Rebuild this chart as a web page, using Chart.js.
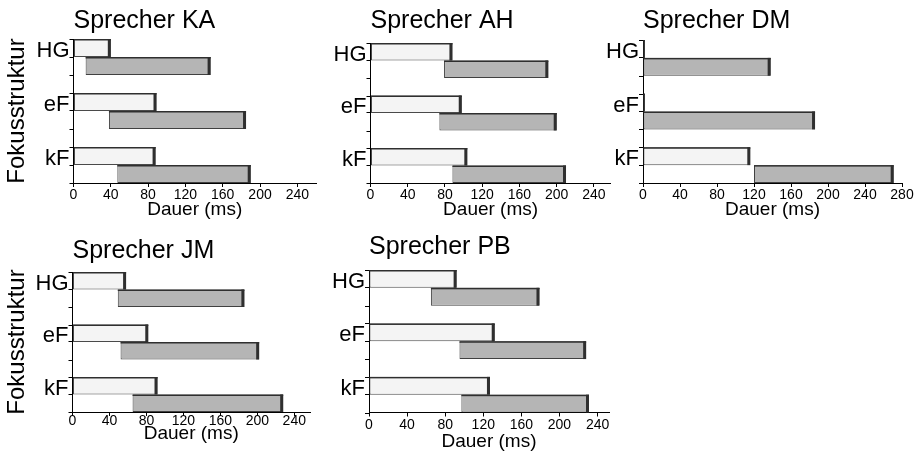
<!DOCTYPE html>
<html>
<head>
<meta charset="utf-8">
<script src="https://cdn.jsdelivr.net/npm/chart.js@4.4.1/dist/chart.umd.min.js"></script>
<style>
  body { margin: 0; background: #fff; }
  #wrap { position: relative; width: 921px; height: 457px; }
  canvas { position: absolute; }
</style>
</head>
<body>
<div id="wrap">
  <canvas id="ka" width="320" height="228" style="left:0;top:0"></canvas>
  <canvas id="ah" width="300" height="228" style="left:320px;top:0"></canvas>
  <canvas id="dm" width="321" height="228" style="left:600px;top:0"></canvas>
  <canvas id="jm" width="320" height="229" style="left:0;top:228px"></canvas>
  <canvas id="pb" width="300" height="229" style="left:320px;top:228px"></canvas>
</div>
<script>
// Kategorien (Fokusstruktur)
const categories = ['HG', 'eF', 'kF'];

// Weisse Balken: 0 bis Ende (ms)
const kaWhite = [40, 89, 88];
const ahWhite = [88, 98, 104];
const dmWhite = [2, 2, 116];
const jmWhite = [58, 82, 92];
const pbWhite = [92, 132, 127];

// Graue Balken: Beginn und Ende (ms)
const kaGrayStart = [13, 38, 47];
const kaGrayEnd   = [147, 185, 190];
const ahGrayStart = [79, 74, 88];
const ahGrayEnd   = [191, 200, 210];
const dmGrayStart = [0, 0, 120];
const dmGrayEnd   = [138, 186, 271];
const jmGrayStart = [49, 52, 65];
const jmGrayEnd   = [186, 202, 228];
const pbGrayStart = [65, 95, 97];
const pbGrayEnd   = [179, 228, 231];

// Schrittweite der x-Achse
const xStep = 40;

Chart.defaults.font.family = '"Liberation Sans", Arial, sans-serif';
Chart.defaults.color = '#000';

// dunkle Kante rechts und oben (3D-Optik)
const barDepth = {
  id: 'barDepth',
  afterDatasetsDraw(chart) {
    const ctx = chart.ctx;
    ctx.save();
    ctx.fillStyle = '#2f2f2f';
    chart.data.datasets.forEach((ds, di) => {
      chart.getDatasetMeta(di).data.forEach(el => {
        const p = el.getProps(['x', 'base', 'y', 'height'], true);
        const l = Math.min(p.x, p.base), r = Math.max(p.x, p.base);
        const top = p.y - p.height / 2;
        const w = Math.min(3, r - l);
        ctx.fillRect(r - w, top, w, p.height);
        ctx.fillRect(l, top, r - l, 1.5);
      });
    });
    ctx.restore();
  }
};

// zusaetzliche Teilstriche an der y-Achse
const minorTicks = {
  id: 'minorTicks',
  afterDraw(chart) {
    const y = chart.scales.y, ctx = chart.ctx;
    ctx.save();
    ctx.strokeStyle = '#000';
    ctx.lineWidth = 1;
    ctx.beginPath();
    categories.forEach((c, i) => {
      [-1 / 3, 1 / 3].forEach(d => {
        const py = Math.round(y.getPixelForValue(i + d)) + 0.5;
        ctx.moveTo(y.right - 4, py);
        ctx.lineTo(y.right, py);
      });
    });
    ctx.stroke();
    ctx.restore();
  }
};

function panel(id, title, whiteEnd, grayStart, grayEnd, g) {
  new Chart(document.getElementById(id), {
    type: 'bar',
    data: {
      datasets: [
        {
          data: categories.map((c, i) => ({ y: i, x: [0, whiteEnd[i]] })),
          backgroundColor: '#f4f4f4',
          borderColor: '#4a4a4a'
        },
        {
          data: categories.map((c, i) => ({ y: i, x: [grayStart[i], grayEnd[i]] })),
          backgroundColor: '#b5b5b5',
          borderColor: '#404040'
        }
      ]
    },
    options: {
      indexAxis: 'y',
      responsive: false,
      animation: false,
      devicePixelRatio: 1,
      layout: { padding: g.pad },
      datasets: {
        bar: { categoryPercentage: 2 / 3, barPercentage: 1, borderWidth: 1, borderSkipped: false }
      },
      plugins: {
        legend: { display: false },
        tooltip: { enabled: false },
        title: {
          display: true,
          text: title,
          align: 'start',
          fullSize: false,
          color: '#000',
          font: { size: 25, weight: 'normal' },
          padding: { top: g.titleTop, bottom: g.titleBottom }
        }
      },
      scales: {
        x: {
          type: 'linear',
          min: 0,
          max: g.xMax,
          ticks: { autoSkip: false, maxRotation: 0, padding: g.tickPad, font: { size: 14 } },
          afterBuildTicks: s => {
            s.ticks = [];
            for (let v = 0; v <= s.max; v += xStep) s.ticks.push({ value: v });
          },
          grid: { drawOnChartArea: false, tickLength: 4, color: '#000' },
          border: { color: '#000' },
          title: { display: true, text: 'Dauer (ms)', font: { size: 19 }, padding: 0 },
          afterFit: s => { s.height = g.xh; }
        },
        y: {
          type: 'linear',
          reverse: true,
          offset: false,
          min: -1 / 3,
          max: 7 / 3,
          afterBuildTicks: s => { s.ticks = categories.map((c, i) => ({ value: i })); },
          ticks: { callback: v => categories[v], labelOffset: -6, padding: 0, font: { size: 22 } },
          grid: { offset: false, drawOnChartArea: false, tickLength: 4, color: '#000' },
          border: { color: '#000' },
          title: { display: g.yTitle, text: 'Fokusstruktur', font: { size: 24 }, padding: 0 },
          afterFit: s => { s.width = g.yw; }
        }
      }
    },
    plugins: [barDepth, minorTicks]
  });
}

panel('ka', 'Sprecher KA', kaWhite, kaGrayStart, kaGrayEnd, {
  pad: { left: 3, right: 4, top: 0, bottom: 6.6 }, titleTop: 6.5, titleBottom: 2.5,
  yw: 70.5, xh: 38.4, xMax: 260, tickPad: 0, yTitle: true
});
panel('ah', 'Sprecher AH', ahWhite, ahGrayStart, ahGrayEnd, {
  pad: { left: 0, right: 9.3, top: 0, bottom: 6.6 }, titleTop: 6.5, titleBottom: 6.5,
  yw: 50.5, xh: 38.4, xMax: 258, tickPad: 0, yTitle: false
});
panel('dm', 'Sprecher DM', dmWhite, dmGrayStart, dmGrayEnd, {
  pad: { left: 0, right: 19, top: 0, bottom: 6.6 }, titleTop: 6.5, titleBottom: 3.5,
  yw: 43, xh: 38.4, xMax: 280, tickPad: 0, yTitle: false
});
panel('jm', 'Sprecher JM', jmWhite, jmGrayStart, jmGrayEnd, {
  pad: { left: 3, right: 10, top: 0, bottom: 12 }, titleTop: 8.5, titleBottom: 5.5,
  yw: 69.5, xh: 33, xMax: 257, tickPad: -3, yTitle: true
});
panel('pb', 'Sprecher PB', pbWhite, pbGrayStart, pbGrayEnd, {
  pad: { left: 0, right: 11, top: 0, bottom: 4.1 }, titleTop: 4.5, titleBottom: 7.5,
  yw: 49, xh: 40.4, xMax: 252, tickPad: 0, yTitle: false
});
</script>
</body>
</html>
